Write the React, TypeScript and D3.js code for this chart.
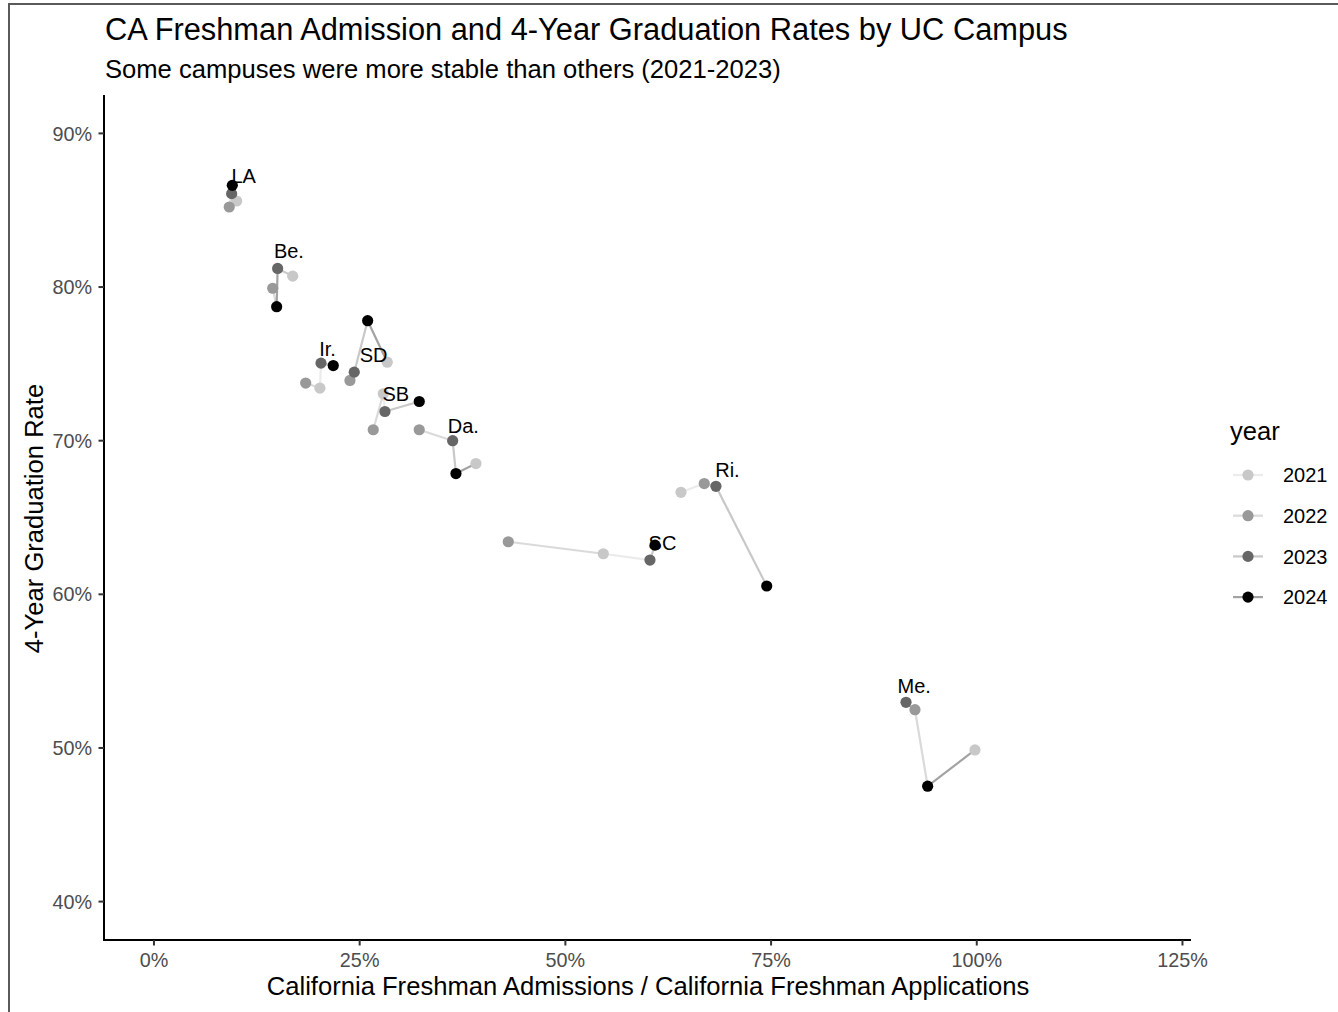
import React from "react";
import * as d3 from "d3";

const campuses = ["LA", "Be.", "Ir.", "SD", "SB", "Da.", "SC", "Ri.", "Me."];
const years = [2021, 2022, 2023, 2024];
// admit rate (%) per campus, for 2021..2024
const admitRate: number[][] = [
  [10.05, 9.15, 9.44, 9.52],
  [16.86, 14.43, 15.03, 14.91],
  [20.17, 18.44, 20.3, 21.79],
  [28.35, 23.82, 24.34, 25.97],
  [27.87, 26.65, 28.07, 32.24],
  [39.13, 32.24, 36.3, 36.7],
  [54.61, 43.06, 60.28, 60.89],
  [64.05, 66.88, 68.3, 74.47],
  [99.78, 92.49, 91.4, 94.03],
];
// 4-year graduation rate (%) per campus, for 2021..2024
const gradRate: number[][] = [
  [85.6, 85.21, 86.08, 86.62],
  [80.71, 79.92, 81.21, 78.72],
  [73.42, 73.75, 75.05, 74.89],
  [75.11, 73.92, 74.46, 77.81],
  [73.05, 70.71, 71.9, 72.55],
  [68.51, 70.71, 70.0, 67.86],
  [62.64, 63.42, 62.23, 63.2],
  [66.64, 67.21, 67.03, 60.54],
  [49.87, 52.49, 52.97, 47.51],
];
// label anchor (data units, %)
const labelX = [10.9, 16.4, 21.1, 26.7, 29.4, 37.6, 61.8, 69.7, 92.4];
const labelY = [87.25, 82.35, 76.0, 75.6, 73.05, 71.0, 63.35, 68.1, 54.05];

const xTicks = [0, 25, 50, 75, 100, 125];
const yTicks = [40, 50, 60, 70, 80, 90];
const yearColors = ["#c8c8c8", "#999999", "#666666", "#000000"];

const FONT = "'Liberation Sans', Arial, Helvetica, sans-serif";

export default function App() {
  const W = 1338;
  const H = 1012;
  const x = d3.scaleLinear().domain([-6, 126]).range([104.6, 1190.7]);
  const y = d3.scaleLinear().domain([37.5, 92.5]).range([940, 95]);
  const color = d3.scaleOrdinal<number, string>().domain(years).range(yearColors);

  type Pt = { campus: number; year: number; xv: number; yv: number };
  const pts: Pt[] = [];
  campuses.forEach((_, ci) => {
    years.forEach((yr, yi) => {
      pts.push({ campus: ci, year: yr, xv: admitRate[ci][yi], yv: gradRate[ci][yi] });
    });
  });

  // segments: per campus, sorted by x (geom_line), colored by start point
  const segs: { x1: number; y1: number; x2: number; y2: number; c: string }[] = [];
  campuses.forEach((_, ci) => {
    const arr = pts.filter((p) => p.campus === ci).sort((a, b) => a.xv - b.xv);
    for (let i = 0; i < arr.length - 1; i++) {
      segs.push({
        x1: x(arr[i].xv),
        y1: y(arr[i].yv),
        x2: x(arr[i + 1].xv),
        y2: y(arr[i + 1].yv),
        c: color(arr[i].year),
      });
    }
  });

  const ptsSorted = [...pts].sort((a, b) => a.year - b.year);
  const lineAlpha = 0.36;
  const R = 5.6;

  return (
    <svg
      width={W}
      height={H}
      style={{ position: "absolute", left: 0, top: 0, background: "#fff" }}
      fontFamily={FONT}
    >
      <rect x={0} y={0} width={W} height={H} fill="#fff" />
      {/* frame */}
      <line x1={8} x2={W} y1={4} y2={4} stroke="#5a5a5a" strokeWidth={2} />
      <line x1={9} x2={9} y1={3} y2={H} stroke="#5a5a5a" strokeWidth={2} />

      {/* title */}
      <text x={105} y={40} fontSize={30.8} fill="#000">
        CA Freshman Admission and 4-Year Graduation Rates by UC Campus
      </text>
      <text x={105} y={78} fontSize={25.6} fill="#000">
        Some campuses were more stable than others (2021-2023)
      </text>

      {/* axes */}
      <line x1={104} x2={104} y1={95} y2={941} stroke="#000" strokeWidth={2} />
      <line x1={103} x2={1191} y1={940} y2={940} stroke="#000" strokeWidth={2} />
      {yTicks.map((t) => (
        <g key={"y" + t}>
          <line x1={98.5} x2={104} y1={y(t)} y2={y(t)} stroke="#333" strokeWidth={2} />
          <text x={92} y={y(t)} dy="0.36em" textAnchor="end" fontSize={19.8} fill="#4d4d4d">
            {t}%
          </text>
        </g>
      ))}
      {xTicks.map((t) => (
        <g key={"x" + t}>
          <line x1={x(t)} x2={x(t)} y1={940} y2={945.5} stroke="#333" strokeWidth={2} />
          <text x={x(t)} y={967} textAnchor="middle" fontSize={19.8} fill="#4d4d4d">
            {t}%
          </text>
        </g>
      ))}
      <text x={648} y={995} textAnchor="middle" fontSize={25.6} fill="#000">
        California Freshman Admissions / California Freshman Applications
      </text>
      <text
        transform={`translate(43,518.5) rotate(-90)`}
        textAnchor="middle"
        fontSize={25.6}
        fill="#000"
      >
        4-Year Graduation Rate
      </text>

      {/* lines */}
      {segs.map((s, i) => (
        <line
          key={"s" + i}
          x1={s.x1}
          y1={s.y1}
          x2={s.x2}
          y2={s.y2}
          stroke={s.c}
          strokeOpacity={lineAlpha}
          strokeWidth={2.2}
        />
      ))}
      {/* points */}
      {ptsSorted.map((p, i) => (
        <circle key={"p" + i} cx={x(p.xv)} cy={y(p.yv)} r={R} fill={color(p.year)} />
      ))}
      {/* labels */}
      {campuses.map((c, ci) => (
        <text
          key={"l" + c}
          x={x(labelX[ci])}
          y={y(labelY[ci])}
          dy="0.36em"
          textAnchor="middle"
          fontSize={20}
          fill="#000"
        >
          {c}
        </text>
      ))}

      {/* legend */}
      <text x={1230} y={440} fontSize={25.6} fill="#000">
        year
      </text>
      {years.map((yr, i) => {
        const cy = 475 + i * 40.7;
        return (
          <g key={"lg" + yr}>
            <line x1={1233} x2={1263} y1={cy} y2={cy} stroke={color(yr)} strokeOpacity={lineAlpha} strokeWidth={2.2} />
            <circle cx={1248} cy={cy} r={R} fill={color(yr)} />
            <text x={1283} y={cy} dy="0.36em" fontSize={20} fill="#000">
              {yr}
            </text>
          </g>
        );
      })}
    </svg>
  );
}
